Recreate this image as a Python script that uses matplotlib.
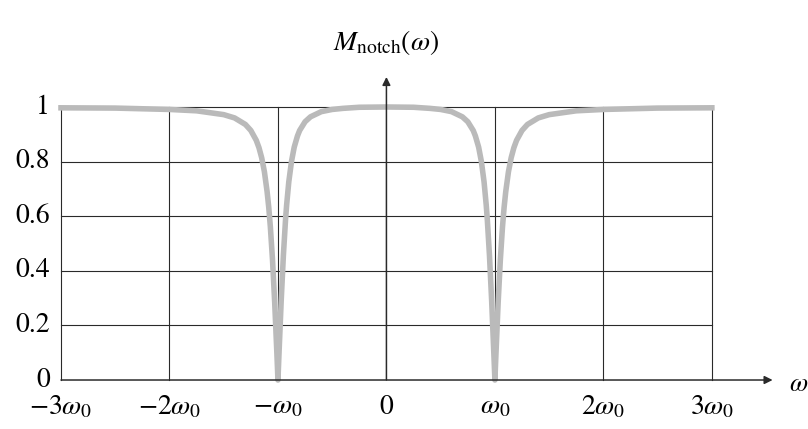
import matplotlib
matplotlib.use('Agg')
import matplotlib.pyplot as plt
import numpy as np

# 刻度
x_ticks = [-3, -2, -1, 0, 1, 2, 3]
x_labels = [r'$-3\omega_0$', r'$-2\omega_0$', r'$-\omega_0$', r'$0$',
            r'$\omega_0$', r'$2\omega_0$', r'$3\omega_0$']
y_ticks = [0, 0.2, 0.4, 0.6, 0.8, 1.0]
y_labels = ['0', '0.2', '0.4', '0.6', '0.8', '1']

# 曲线读数 (ω/ω0 >= 0，另一半对称)
omega_pos = [0, 0.25, 0.4, 0.5, 0.6, 0.7, 0.75, 0.8, 0.82, 0.85, 0.875, 0.9,
             0.92, 0.93, 0.95, 0.97, 0.99, 1.0, 1.01, 1.03, 1.05, 1.07, 1.085,
             1.1, 1.125, 1.15, 1.175, 1.2, 1.25, 1.3, 1.4, 1.5, 1.75, 2.0,
             2.5, 3.0]
mag_pos = [1.0, 0.999, 0.995, 0.991, 0.983, 0.964, 0.946, 0.914, 0.894, 0.853,
           0.801, 0.726, 0.641, 0.588, 0.456, 0.291, 0.100, 0.0, 0.099, 0.284,
           0.439, 0.561, 0.633, 0.690, 0.763, 0.814, 0.851, 0.878, 0.914,
           0.936, 0.960, 0.972, 0.986, 0.991, 0.996, 0.997]

omega = np.concatenate([-np.array(omega_pos[::-1]), np.array(omega_pos[1:])])
mag = np.concatenate([np.array(mag_pos[::-1]), np.array(mag_pos[1:])])

plt.rcParams['font.family'] = ['STIXGeneral', 'DejaVu Serif']
plt.rcParams['mathtext.fontset'] = 'stix'

fig = plt.figure(figsize=(8.08, 4.29), dpi=100)
ax = fig.add_axes([0.0755, 0.1142, 0.8055, 0.6364])
ax.set_xlim(-3, 3)
ax.set_ylim(0, 1)
ax.axis('off')

line_kw = dict(color='#2a2a2a', linewidth=0.8, clip_on=False)
# 水平网格
for y in y_ticks[1:]:
    ax.plot([-3, 3], [y, y], **line_kw)
# 垂直网格
for x in x_ticks:
    if x != 0:
        ax.plot([x, x], [0, 1], **line_kw)

# 曲线
ax.plot(omega, mag, color='#bababa', linewidth=4.0, clip_on=False,
        solid_joinstyle='round', zorder=3)

# 坐标轴箭头
arrow = dict(arrowstyle='-|>', color='#2a2a2a', linewidth=1.1,
             mutation_scale=12, shrinkA=0, shrinkB=0)
ax.annotate('', xy=(3.56, 0), xytext=(-3, 0), arrowprops=arrow,
            annotation_clip=False, zorder=4)
ax.annotate('', xy=(0, 1.11), xytext=(0, 0), arrowprops=arrow,
            annotation_clip=False, zorder=4)

for x, lab in zip(x_ticks, x_labels):
    ax.text(x, -0.10, lab, ha='center', va='center', fontsize=20)
for y, lab in zip(y_ticks, y_labels):
    ax.text(-3.1, y, lab, ha='right', va='center', fontsize=20)

ax.text(0, 1.235, r'$M_{\rm notch}(\omega)$', ha='center', va='center',
        fontsize=20)
ax.text(3.71, -0.02, r'$\omega$', ha='left', va='center', fontsize=19)

fig.savefig('out.png', dpi=100, facecolor='white')
